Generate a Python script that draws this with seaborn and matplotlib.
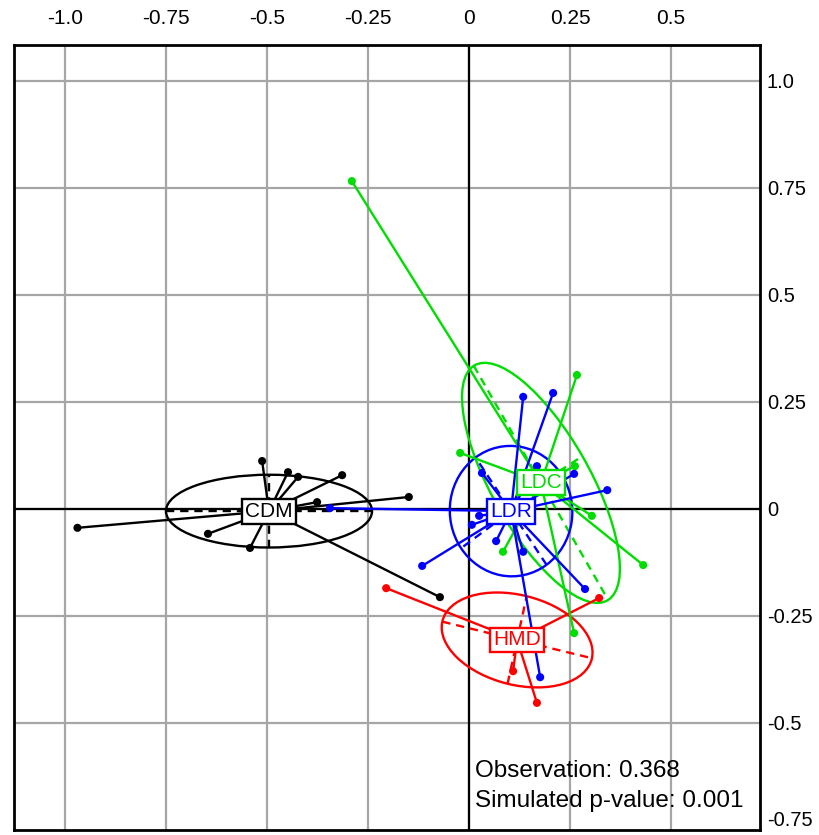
import numpy as np
import pandas as pd
import matplotlib
matplotlib.use("Agg")
import matplotlib.pyplot as plt
from matplotlib.patches import Ellipse
import seaborn as sns

# Factor scores of the sites, by class
groups = ["CDM", "HMD", "LDC", "LDR"]
colors = {"CDM": "#000000", "HMD": "#FF0000", "LDC": "#00DD00", "LDR": "#0000FF"}

cdm_x = [-0.969, -0.512, -0.448, -0.423, -0.314, -0.149, -0.376, -0.646, -0.542, -0.072]
cdm_y = [-0.044, 0.112, 0.086, 0.075, 0.079, 0.028, 0.016, -0.058, -0.091, -0.206]

hmd_x = [-0.205, 0.322, 0.109, 0.168]
hmd_y = [-0.185, -0.208, -0.379, -0.453]

ldc_x = [-0.290, 0.267, -0.022, 0.262, 0.304, 0.084, 0.431, 0.260]
ldc_y = [0.766, 0.313, 0.131, 0.100, -0.016, -0.100, -0.131, -0.290]

ldr_x = [0.134, 0.208, 0.168, 0.260, 0.342, 0.032, 0.025, 0.007, -0.116, 0.067, 0.134, 0.287, 0.176, -0.344]
ldr_y = [0.262, 0.271, 0.100, 0.082, 0.044, 0.084, -0.016, -0.037, -0.133, -0.075, -0.100, -0.187, -0.393, 0.002]

# Class centroids
centre_x = [-0.495, 0.119, 0.178, 0.104]
centre_y = [-0.005, -0.306, 0.061, -0.005]

# Inertia ellipses: half major axis, half minor axis, angle (degrees)
ell_a = [0.255, 0.190, 0.320, 0.153]
ell_b = [0.085, 0.105, 0.120, 0.151]
ell_angle = [0.0, -13.0, -58.7, 125.0]

x_ticks = [-1.0, -0.75, -0.5, -0.25, 0.0, 0.25, 0.5]
x_tick_labels = ["-1.0", "-0.75", "-0.5", "-0.25", "0", "0.25", "0.5"]
y_ticks = [1.0, 0.75, 0.5, 0.25, 0.0, -0.25, -0.5, -0.75]
y_tick_labels = ["1.0", "0.75", "0.5", "0.25", "0", "-0.25", "-0.5", "-0.75"]

obs_text = "Observation: 0.368"
pval_text = "Simulated p-value: 0.001"

points = pd.concat([
    pd.DataFrame({"x": cdm_x, "y": cdm_y, "group": "CDM"}),
    pd.DataFrame({"x": hmd_x, "y": hmd_y, "group": "HMD"}),
    pd.DataFrame({"x": ldc_x, "y": ldc_y, "group": "LDC"}),
    pd.DataFrame({"x": ldr_x, "y": ldr_y, "group": "LDR"}),
], ignore_index=True)
centres = pd.DataFrame({"group": groups, "cx": centre_x, "cy": centre_y,
                        "a": ell_a, "b": ell_b, "angle": ell_angle})

sns.set_theme(style="white")
plt.rcParams["font.family"] = ["Liberation Sans", "DejaVu Sans"]

fig = plt.figure(figsize=(8.2, 8.35), dpi=100)
ax = fig.add_axes([14 / 820, 5 / 835, 746 / 820, 785 / 835])
ax.set_xlim(-1.126, 0.720)
ax.set_ylim(-0.75, 1.084)

# background grid
for xv in x_ticks:
    ax.axvline(xv, color="#a6a6a6", lw=1.6, zorder=0)
for yv in y_ticks[:-1]:
    ax.axhline(yv, color="#a6a6a6", lw=1.6, zorder=0)
ax.axhline(0, color="black", lw=1.6, zorder=1)
ax.axvline(0, color="black", lw=1.6, zorder=1)

for _, row in centres.iterrows():
    g = row["group"]
    col = colors[g]
    cx, cy = row["cx"], row["cy"]
    # ellipse and its dashed axes
    ax.add_patch(Ellipse((cx, cy), 2 * row["a"], 2 * row["b"], angle=row["angle"],
                         fill=False, ec=col, lw=1.7, zorder=2))
    t = np.deg2rad(row["angle"])
    ux, uy = np.cos(t), np.sin(t)
    ax.plot([cx - row["a"] * ux, cx + row["a"] * ux], [cy - row["a"] * uy, cy + row["a"] * uy],
            color=col, lw=1.7, ls=(0, (3.5, 2.5)), zorder=2)
    ax.plot([cx + row["b"] * uy, cx - row["b"] * uy], [cy - row["b"] * ux, cy + row["b"] * ux],
            color=col, lw=1.7, ls=(0, (3.5, 2.5)), zorder=2)
    # star from centroid to every site
    sub = points[points["group"] == g]
    for px, py in zip(sub["x"], sub["y"]):
        ax.plot([cx, px], [cy, py], color=col, lw=1.7, zorder=3)

sns.scatterplot(data=points, x="x", y="y", hue="group", palette=colors,
                s=34, edgecolor="none", legend=False, ax=ax, zorder=4)

for _, row in centres.iterrows():
    col = colors[row["group"]]
    ax.text(row["cx"], row["cy"], row["group"], color=col, fontsize=15,
            ha="center", va="center", zorder=6,
            bbox=dict(boxstyle="square,pad=0.14", fc="white", ec=col, lw=1.7))

ax.text(0.015, -0.626, obs_text, fontsize=17.5, color="black", ha="left",
        va="baseline", zorder=7)
ax.text(0.015, -0.696, pval_text, fontsize=17.5, color="black", ha="left",
        va="baseline", zorder=7)

# axes labels outside the frame: x on top, y on the right
ax.xaxis.tick_top()
ax.set_xticks(x_ticks)
ax.set_xticklabels(x_tick_labels, fontsize=15,
                   family=["Liberation Sans Narrow", "Liberation Sans"])
ax.yaxis.tick_right()
ax.set_yticks(y_ticks)
ax.set_yticklabels(y_tick_labels, fontsize=14.5)
ax.tick_params(axis="x", length=0, pad=12, colors="black")
ax.tick_params(axis="y", length=0, pad=5, colors="black")
# keep the lowest label inside the figure
ax.get_yticklabels()[-1].set_va("bottom")
ax.set_xlabel("")
ax.set_ylabel("")
for sp in ax.spines.values():
    sp.set_color("black")
    sp.set_linewidth(2.0)
    sp.set_visible(True)

fig.savefig("out.png", dpi=100)
